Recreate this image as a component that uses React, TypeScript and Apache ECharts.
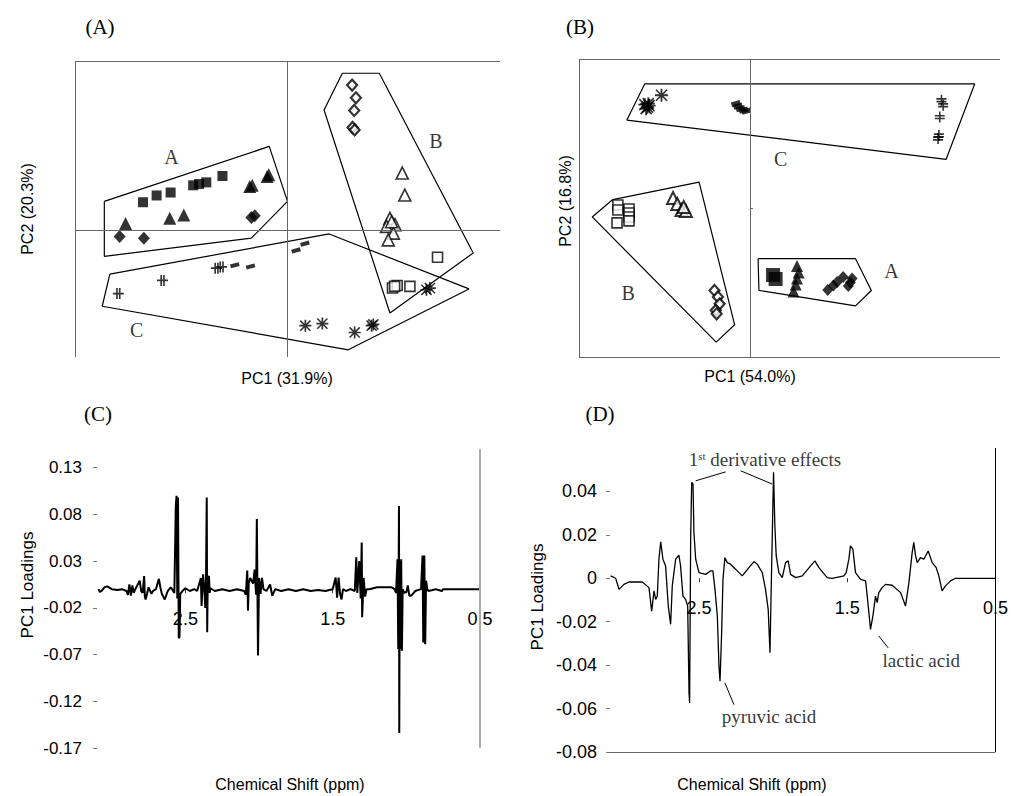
import React, { useEffect, useRef } from 'react';
import * as echarts from 'echarts';

const SERIF = "'Liberation Serif', 'Times New Roman', serif";
const SANS = "'Liberation Sans', Arial, sans-serif";

// ---------- Panel (A): PC1 (31.9%) vs PC2 (20.3%) ----------
const aFilledSquares = [[-3.40, 0.66], [-3.08, 0.82], [-2.75, 0.89], [-2.22, 1.06], [-2.08, 1.09], [-1.91, 1.13], [-1.53, 1.28]];
const aFilledTriangles = [[-3.81, 0.16], [-2.77, 0.28], [-2.44, 0.36], [-0.89, 1.03], [-0.83, 1.06], [-0.48, 1.27], [-0.44, 1.31]];
const aFilledDiamonds = [[-3.95, -0.15], [-3.38, -0.19], [-0.85, 0.30], [-0.77, 0.34]];
const aOpenDiamonds = [[1.52, 3.43], [1.61, 3.13], [1.57, 2.83], [1.53, 2.43], [1.58, 2.37]];
const aOpenTriangles = [[2.70, 1.35], [2.76, 0.83], [2.41, 0.28], [2.53, 0.13], [2.33, 0.09], [2.49, -0.07], [2.37, -0.23], [2.45, 0.20]];
const aOpenSquares = [[3.53, -0.64], [2.47, -1.37], [2.58, -1.31], [2.88, -1.33], [2.52, -1.33]];
const aAsterisks = [[3.27, -1.41], [3.35, -1.37], [0.42, -2.26], [0.82, -2.21], [1.58, -2.42], [1.98, -2.26], [2.02, -2.23]];
const aPluses = [[-3.98, -1.50], [-2.94, -1.19], [-1.67, -0.90], [-1.55, -0.87]];
const aDashes = [[-1.24, -0.83], [-0.87, -0.86], [0.20, -0.48], [0.41, -0.32]];
const aHullA = [[-4.31, 0.68], [-0.43, 1.98], [0, 0.68], [-0.85, -0.19], [-4.31, -0.62], [-4.31, 0.68]];
const aHullB = [[1.29, 3.71], [2.16, 3.71], [4.37, -0.54], [2.41, -1.96], [0.86, 2.84], [1.29, 3.71]];
const aHullC = [[-4.18, -1.04], [0.98, -0.09], [4.27, -1.39], [1.43, -2.83], [-4.36, -1.80], [-4.18, -1.04]];
const aGroupNames = ['A', 'B', 'C'];
const aGroupPos = [[-2.73, 1.72], [3.49, 2.11], [-3.55, -2.35]];

// ---------- Panel (B): PC1 (54.0%) vs PC2 (16.8%) ----------
const bFilledSquares = [[0.54, -1.35], [0.60, -1.43]];
const bFilledTriangles = [[1.10, -1.17], [1.14, -1.30], [1.10, -1.42], [1.07, -1.54], [1.02, -1.68]];
const bFilledDiamonds = [[1.82, -1.65], [1.95, -1.56], [2.04, -1.49], [2.18, -1.39], [2.39, -1.42], [2.35, -1.50], [2.30, -1.57]];
const bOpenDiamonds = [[-0.83, -1.66], [-0.75, -1.79], [-0.71, -1.93], [-0.80, -2.06], [-0.78, -2.13]];
const bOpenTriangles = [[-1.80, 0.20], [-1.70, 0.08], [-1.60, -0.04], [-1.50, -0.06], [-1.55, 0.02]];
const bOpenSquares = [[-3.09, 0.06], [-3.09, -0.04], [-3.11, -0.30], [-2.83, -0.02], [-2.83, -0.10], [-2.83, -0.18], [-2.83, -0.26]];
const bAsterisks = [[-2.46, 2.08], [-2.40, 2.03], [-2.36, 2.06], [-2.43, 2.00], [-2.38, 2.10], [-2.07, 2.27]];
const bPluses = [[4.48, 2.17], [4.52, 2.07], [4.44, 1.83], [4.40, 1.40], [4.42, 1.46]];
const bDashes = [[-0.33, 2.10], [-0.28, 2.05], [-0.22, 2.00], [-0.15, 1.97], [-0.09, 1.95]];
const bHullA = [[0.19, -1.02], [2.47, -1.02], [2.84, -1.66], [2.47, -1.97], [0.21, -1.66], [0.19, -1.02]];
const bHullB = [[-3.21, 0.17], [-1.19, 0.52], [-0.36, -2.35], [-0.79, -2.70], [-3.69, -0.18], [-3.21, 0.17]];
const bHullC = [[-2.46, 2.50], [5.26, 2.50], [4.59, 0.98], [-2.88, 1.77], [-2.46, 2.50]];
const bGroupNames = ['A', 'B', 'C'];
const bGroupPos = [[3.31, -1.26], [-2.85, -1.72], [0.72, 0.98]];

// ---------- Panel (C): PC1 loadings, [ppm, loading] ----------
const cSpectrum = [
  [3.09, 0], [3.08, -0.003], [3.07, -0.002], [3.05, 0.002], [3.03, 0.003], [3.0, 0.0], [2.96, -0.001], [2.93, 0.0],
  [2.90, -0.002], [2.89, -0.006], [2.88, 0.005], [2.87, -0.007], [2.86, 0.004], [2.85, -0.004], [2.84, 0.0],
  [2.81, 0.009], [2.80, -0.002], [2.79, -0.004], [2.78, 0.014], [2.775, -0.008], [2.77, -0.011], [2.76, -0.005],
  [2.75, 0.002], [2.73, -0.005], [2.72, -0.002], [2.70, 0.0], [2.68, 0.011], [2.67, 0.002], [2.66, -0.005],
  [2.64, -0.011], [2.62, -0.002], [2.60, 0.002], [2.59, 0.0], [2.575, -0.004], [2.565, 0.089], [2.56, 0.1],
  [2.555, -0.01], [2.55, 0.098], [2.545, -0.052], [2.54, -0.052], [2.535, -0.005], [2.52, -0.002], [2.50, 0.001],
  [2.47, -0.002], [2.44, 0.0], [2.42, -0.002], [2.40, 0.009], [2.395, 0.012], [2.39, -0.018], [2.38, 0.016],
  [2.37, -0.004], [2.365, -0.02], [2.36, 0.014], [2.355, 0.098], [2.352, -0.046], [2.348, 0.012], [2.34, 0.014],
  [2.335, -0.004], [2.33, 0.001], [2.30, -0.002], [2.25, 0.0], [2.20, -0.002], [2.15, 0.0], [2.10, -0.002],
  [2.09, -0.006], [2.08, 0.02], [2.075, -0.023], [2.07, 0.006], [2.06, 0.012], [2.04, 0.006], [2.03, 0.021],
  [2.02, -0.006], [2.015, 0.075], [2.007, -0.071], [2.0, 0.012], [1.99, -0.005], [1.98, 0.012], [1.97, 0.0],
  [1.95, -0.002], [1.925, 0.005], [1.91, -0.007], [1.89, 0.0], [1.85, -0.002], [1.80, 0.0], [1.75, -0.002],
  [1.70, 0.0], [1.65, -0.002], [1.60, -0.001], [1.55, -0.002], [1.50, 0.0], [1.48, 0.0125], [1.47, -0.009],
  [1.46, 0.0125], [1.45, -0.005], [1.44, -0.011], [1.43, 0.0], [1.41, -0.002], [1.38, 0.0], [1.35, -0.002],
  [1.34, 0.034], [1.333, -0.004], [1.32, 0.030], [1.31, -0.010], [1.303, 0.050], [1.30, -0.030], [1.29, 0.012],
  [1.28, -0.008], [1.27, 0.0], [1.25, 0.0], [1.20, 0.002], [1.15, 0.002], [1.10, 0.002], [1.08, 0.0],
  [1.07, -0.004], [1.06, 0.032], [1.055, -0.064], [1.05, 0.089], [1.048, -0.154], [1.045, 0.03], [1.04, -0.064],
  [1.035, 0.032], [1.03, -0.066], [1.025, 0.0], [1.015, -0.004], [1.0, -0.003], [0.99, 0.004], [0.98, -0.007],
  [0.97, -0.007], [0.955, -0.005], [0.94, -0.002], [0.90, 0.0], [0.89, 0.036], [0.885, -0.057], [0.878, 0.036],
  [0.872, -0.059], [0.866, 0.009], [0.858, 0.0], [0.85, -0.002], [0.80, 0.0], [0.76, -0.002], [0.75, 0.0], [0.5, 0.0],
];

// ---------- Panel (D): PC1 loadings, [ppm, loading] ----------
const dSpectrum = [
  [3.096, 0.0011], [3.062, 0], [3.039, -0.0051], [3.006, -0.0028], [2.972, -0.0017], [2.882, -0.0017],
  [2.837, -0.0043], [2.819, -0.0151], [2.803, -0.0058], [2.792, -0.0097], [2.781, -0.0082], [2.770, 0.0088],
  [2.758, 0.0168], [2.743, 0.0088], [2.725, 0.0057], [2.707, -0.0128], [2.691, -0.0212], [2.680, -0.0035],
  [2.657, 0.0088], [2.635, 0.0106], [2.624, 0.0057], [2.608, -0.0082], [2.590, -0.0097], [2.576, -0.0128],
  [2.567, -0.0528], [2.563, -0.0574], [2.556, 0.018], [2.549, 0.0442], [2.540, 0.0434], [2.534, 0.0211],
  [2.522, 0.0088], [2.500, 0.0026], [2.455, 0.0018], [2.421, 0.0034], [2.406, 0.0034], [2.392, -0.0051],
  [2.376, -0.0174], [2.365, -0.0405], [2.358, -0.0474], [2.347, -0.0251], [2.338, -0.0005], [2.325, 0.0095],
  [2.309, 0.0072], [2.287, 0.0065], [2.253, 0.0042], [2.208, 0.0011], [2.163, 0.0049], [2.129, 0.0077],
  [2.107, 0.0065], [2.073, 0.0026], [2.051, -0.0051], [2.033, -0.0143], [2.021, -0.0343], [2.015, -0.0128],
  [2.006, 0.018], [1.997, 0.0488], [1.988, 0.0242], [1.979, 0.0103], [1.961, 0.0026], [1.938, 0.0003],
  [1.916, 0.0072], [1.898, 0.008], [1.882, 0.0018], [1.848, 0.0003], [1.803, 0.0011], [1.747, 0.0057],
  [1.718, 0.008], [1.691, 0.0049], [1.635, 0.0003], [1.601, 0], [1.522, 0.0011], [1.507, 0.0026],
  [1.489, 0.0088], [1.478, 0.0149], [1.462, 0.0134], [1.444, 0.0026], [1.410, -0.0005], [1.376, -0.0012],
  [1.365, -0.0082], [1.354, -0.0158], [1.343, -0.0235], [1.327, -0.0174], [1.309, -0.0082], [1.298, -0.0112],
  [1.287, -0.0066], [1.264, -0.0043], [1.242, -0.0028], [1.197, -0.0032], [1.140, -0.0066], [1.107, -0.0128],
  [1.084, -0.002], [1.062, 0.0118], [1.051, 0.0165], [1.039, 0.0103], [1.028, 0.0072], [1.006, 0.0095],
  [0.983, 0.0088], [0.954, 0.0126], [0.927, 0.0072], [0.900, 0.0049], [0.882, 0.0011], [0.860, -0.0058],
  [0.837, -0.0035], [0.803, -0.0012], [0.770, 0], [0.500, 0],
];
const dNoteNames = ['1st derivative effects', 'pyruvic acid', 'lactic acid'];
const dNotePos = [[2.055, 0.0545], [2.028, -0.0635], [1.001, -0.038]];
const dLeaders = [
  [[2.522, 0.0449], [2.32, 0.049]],
  [[2.219, 0.0495], [2.006, 0.0434]],
  [[2.325, -0.0482], [2.264, -0.0582]],
  [[1.287, -0.0266], [1.224, -0.032]],
];

// axis ranges
const cY = { min: -0.17, max: 0.15, interval: 0.05 };
const dY = { min: -0.08, max: 0.06, interval: 0.02 };
const ppmRange = { min: 0.5, max: 3.1, interval: 1 };

const SYM_ASTERISK = 'path://M4.3,0H5.7V10H4.3Z M0,4.3H10V5.7H0Z M1.2,0.3L9.7,8.8L8.8,9.7L0.3,1.2Z M8.8,0.3L9.7,1.2L1.2,9.7L0.3,8.8Z';
const SYM_PLUS = 'path://M3.0,0H4.5V10H3.0Z M5.5,0H7.0V10H5.5Z M0,4.2H10V5.8H0Z';

function scatter(idx: number, data: number[][], symbol: string, size: any, filled: boolean, rotate = 0, bw = 1.6) {
  return {
    type: 'scatter', xAxisIndex: idx, yAxisIndex: idx, data, symbol, symbolSize: size, symbolRotate: rotate,
    itemStyle: filled
      ? { color: '#000' }
      : { color: '#fff', borderColor: '#000', borderWidth: bw },
    silent: true, z: 3,
  };
}

function hull(idx: number, data: number[][], extra: any = {}) {
  return {
    type: 'line', xAxisIndex: idx, yAxisIndex: idx, data, symbol: 'none', silent: true,
    lineStyle: { color: '#000', width: 1.2 }, z: 2, ...extra,
  };
}

function groupLabels(idx: number, names: string[], pos: number[][]) {
  return {
    type: 'scatter', xAxisIndex: idx, yAxisIndex: idx, symbolSize: 0, silent: true,
    data: names.map((n, i) => ({ name: n, value: pos[i] })),
    label: { show: true, position: 'inside', formatter: (p: any) => p.name, color: '#000', fontFamily: SERIF, fontSize: 20 },
  };
}

const frameLine = { silent: true, symbol: ['none', 'none'], label: { show: false }, lineStyle: { color: '#666', width: 1, type: 'solid' }, animation: false };

export default function App() {
  const ref = useRef<HTMLDivElement>(null);
  useEffect(() => {
    if (!ref.current) return;
    const chart = echarts.init(ref.current, null, { renderer: 'svg' });
    const gridC = { left: 97, top: 449, width: 383, height: 299 };
    const gridD = { left: 610, top: 448, width: 386, height: 304 };
    const loadingAxisY = (r: any, margin: number, fs: number) => ({
      type: 'value', min: r.min, max: r.max, interval: r.interval,
      axisLine: { show: false },
      axisTick: { show: true, length: 4, lineStyle: { color: '#777' } },
      axisLabel: { showMaxLabel: false, margin, color: '#000', fontFamily: SANS, fontSize: fs, formatter: (v: number) => (Math.abs(v) < 1e-9 ? '0' : v.toFixed(2)) },
      splitLine: { show: false },
    });
    // x axis placed on the y = 0 line of its grid (labels sit just below the zero line)
    const ppmAxis = (gi: number, grid: any, yr: any) => ({
      gridIndex: gi, type: 'value', min: ppmRange.min, max: ppmRange.max, interval: ppmRange.interval, inverse: true,
      position: 'bottom',
      offset: -grid.height * (0 - yr.min) / (yr.max - yr.min),
      axisLine: { show: false, onZero: false },
      axisTick: { show: true, length: 4, lineStyle: { color: '#333' } },
      axisLabel: { showMaxLabel: false, showMinLabel: true, margin: 21, color: '#000', fontFamily: SANS, fontSize: 18, formatter: (v: number) => v.toFixed(1) },
      splitLine: { show: false },
    });
    chart.setOption({
      animation: false,
      backgroundColor: '#fff',
      grid: [
        { left: 75, top: 61, width: 425, height: 296 },
        { left: 579, top: 59, width: 421, height: 298 },
        gridC,
        gridD,
      ],
      xAxis: [
        { gridIndex: 0, type: 'value', min: -5, max: 5, show: false },
        { gridIndex: 1, type: 'value', min: -4, max: 5.85, show: false },
        ppmAxis(2, gridC, cY),
        ppmAxis(3, gridD, dY),
      ],
      yAxis: [
        { gridIndex: 0, type: 'value', min: -3, max: 4, show: false },
        { gridIndex: 1, type: 'value', min: -3, max: 3, show: false },
        { gridIndex: 2, ...loadingAxisY(cY, 15, 17) },
        { gridIndex: 3, ...loadingAxisY(dY, 13, 18) },
      ],
      series: [
        // Panel A
        hull(0, aHullA, { markLine: { ...frameLine, data: [{ xAxis: -5 }, { yAxis: 4 }, { xAxis: 0 }, { yAxis: 0 }] } }),
        hull(0, aHullB),
        hull(0, aHullC),
        scatter(0, aFilledSquares, 'rect', 10, true),
        scatter(0, aFilledTriangles, 'triangle', 13, true),
        scatter(0, aFilledDiamonds, 'diamond', [12, 13], true),
        scatter(0, aOpenDiamonds, 'diamond', [10, 11], false, 0, 2.2),
        scatter(0, aOpenTriangles, 'triangle', 12, false),
        scatter(0, aOpenSquares, 'rect', 10, false),
        scatter(0, aAsterisks, SYM_ASTERISK, 12, true),
        scatter(0, aPluses, SYM_PLUS, 11, true),
        scatter(0, aDashes, 'rect', [9, 4], true, 15),
        groupLabels(0, aGroupNames, aGroupPos),
        // Panel B
        hull(1, bHullA, { markLine: { ...frameLine, data: [{ xAxis: -4 }, { yAxis: 3 }, { yAxis: -3 }, { xAxis: 0 }, [{ coord: [0, 0] }, { coord: [0.07, 0] }]] } }),
        hull(1, bHullB),
        hull(1, bHullC),
        scatter(1, bFilledSquares, 'rect', 14, true),
        scatter(1, bFilledTriangles, 'triangle', 12, true),
        scatter(1, bFilledDiamonds, 'diamond', [11, 12], true),
        scatter(1, bOpenDiamonds, 'diamond', [10, 11], false, 0, 2.2),
        scatter(1, bOpenTriangles, 'triangle', 12, false, 0, 2),
        scatter(1, bOpenSquares, 'rect', 10, false),
        scatter(1, bAsterisks, SYM_ASTERISK, 13, true),
        scatter(1, bPluses, SYM_PLUS, [11, 10], true, 90),
        scatter(1, bDashes, 'rect', [9, 5], true, 15),
        groupLabels(1, bGroupNames, bGroupPos),
        // Panel C
        {
          type: 'line', xAxisIndex: 2, yAxisIndex: 2, data: cSpectrum, symbol: 'none', silent: true,
          lineStyle: { color: '#000', width: 2 },
          markLine: { ...frameLine, lineStyle: { color: '#aaa', width: 2, type: 'solid' }, data: [{ xAxis: 0.5 }] },
        },
        // Panel D
        {
          type: 'line', xAxisIndex: 3, yAxisIndex: 3, data: dSpectrum, symbol: 'none', silent: true,
          lineStyle: { color: '#000', width: 1.3 },
          markLine: {
            ...frameLine,
            lineStyle: { color: '#000', width: 1, type: 'solid' },
            data: [
              { xAxis: 0.5 },
              { yAxis: -0.08, lineStyle: { color: '#666' } },
              ...dLeaders.map((seg) => [{ coord: seg[0] }, { coord: seg[1] }]),
            ],
          },
        },
        {
          type: 'scatter', xAxisIndex: 3, yAxisIndex: 3, symbolSize: 0, silent: true,
          data: dNoteNames.map((n, i) => ({ name: n, value: dNotePos[i] })),
          label: {
            show: true, position: 'inside', color: '#000', fontFamily: SERIF, fontSize: 19,
            formatter: (p: any) => (p.dataIndex === 0 ? '{n|1}{s|st}{n| derivative effects}' : '{n|' + p.name + '}'),
            rich: {
              n: { fontFamily: SERIF, fontSize: 19, color: '#000' },
              s: { fontFamily: SERIF, fontSize: 11, color: '#000', verticalAlign: 'top', padding: [0, 0, 8, 0] },
            },
          },
        },
      ],
      graphic: [
        { type: 'text', x: 100, y: 27, style: { text: '(A)', font: `21px ${SERIF}`, fill: '#000', align: 'center', verticalAlign: 'middle' } },
        { type: 'text', x: 580, y: 27, style: { text: '(B)', font: `21px ${SERIF}`, fill: '#000', align: 'center', verticalAlign: 'middle' } },
        { type: 'text', x: 98, y: 414, style: { text: '(C)', font: `21px ${SERIF}`, fill: '#000', align: 'center', verticalAlign: 'middle' } },
        { type: 'text', x: 600, y: 414, style: { text: '(D)', font: `21px ${SERIF}`, fill: '#000', align: 'center', verticalAlign: 'middle' } },
        { type: 'text', x: 27, y: 209, rotation: Math.PI / 2, style: { text: 'PC2 (20.3%)', font: `16px ${SANS}`, fill: '#000', align: 'center', verticalAlign: 'middle' } },
        { type: 'text', x: 287, y: 378, style: { text: 'PC1 (31.9%)', font: `16px ${SANS}`, fill: '#000', align: 'center', verticalAlign: 'middle' } },
        { type: 'text', x: 565, y: 201, rotation: Math.PI / 2, style: { text: 'PC2 (16.8%)', font: `16px ${SANS}`, fill: '#000', align: 'center', verticalAlign: 'middle' } },
        { type: 'text', x: 750, y: 376, style: { text: 'PC1 (54.0%)', font: `16px ${SANS}`, fill: '#000', align: 'center', verticalAlign: 'middle' } },
        { type: 'text', x: 27, y: 585, rotation: Math.PI / 2, style: { text: 'PC1 Loadings', font: `17px ${SANS}`, fill: '#000', align: 'center', verticalAlign: 'middle' } },
        { type: 'text', x: 537, y: 597, rotation: Math.PI / 2, style: { text: 'PC1 Loadings', font: `17px ${SANS}`, fill: '#000', align: 'center', verticalAlign: 'middle' } },
        { type: 'text', x: 290, y: 784, style: { text: 'Chemical Shift (ppm)', font: `16px ${SANS}`, fill: '#000', align: 'center', verticalAlign: 'middle' } },
        { type: 'text', x: 752, y: 784, style: { text: 'Chemical Shift (ppm)', font: `16px ${SANS}`, fill: '#000', align: 'center', verticalAlign: 'middle' } },
      ],
    });
    return () => chart.dispose();
  }, []);
  return <div ref={ref} style={{ position: 'fixed', left: 0, top: 0, width: 1011, height: 796 }} />;
}
